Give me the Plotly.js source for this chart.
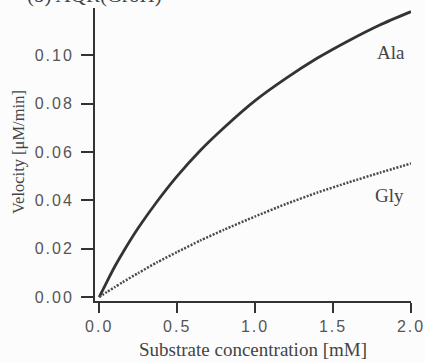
<!DOCTYPE html>
<html>
<head>
<meta charset="utf-8">
<script src="https://cdn.plot.ly/plotly-3.0.1.min.js"></script>
<style>
html,body{margin:0;padding:0;background:#fdfcfc;}
#chart{width:425px;height:363px;}
#chart .xtick text, #chart .ytick text{letter-spacing:2px;}
</style>
</head>
<body>
<div id="chart"></div>
<script>
var substrate = [0, 0.05, 0.1, 0.15, 0.25, 0.37, 0.5, 0.65, 0.8, 1.0, 1.2, 1.4, 1.6, 1.8, 2.0];
var alaVelocity = [0, 0.0064, 0.0126, 0.0182, 0.0285, 0.0394, 0.0500, 0.0607, 0.0700, 0.0812, 0.0905, 0.0988, 0.1060, 0.1125, 0.1180];
var glyVelocity = [0, 0.0021, 0.0041, 0.0061, 0.0099, 0.0143, 0.0186, 0.0234, 0.0278, 0.0333, 0.0385, 0.0432, 0.0474, 0.0514, 0.0552];
var xTicks = [0, 0.5, 1.0, 1.5, 2.0];
var xTickText = ["0.0", "0.5", "1.0", "1.5", "2.0"];
var yTicks = [0, 0.02, 0.04, 0.06, 0.08, 0.10];
var yTickText = ["0.00", "0.02", "0.04", "0.06", "0.08", "0.10"];
var seriesNames = ["Ala", "Gly"];
var panelTitle = "(b) AQR(GroH)";
var xTitle = "Substrate concentration [mM]";
var yTitle = "Velocity [μM/min]";

var traces = [
  {x: substrate, y: alaVelocity, name: seriesNames[0], mode: "lines", line: {color: "#333333", width: 2.8, shape: "spline", smoothing: 0.6}},
  {x: substrate, y: glyVelocity, name: seriesNames[1], mode: "lines", line: {color: "#4a4a4a", width: 2.5, dash: "2px,1.5px", shape: "spline", smoothing: 0.6}}
];

var serif = "Liberation Serif, Times New Roman, serif";
var sans = "Liberation Sans, Arial, sans-serif";

var ml = 95, mr = 14, mt = 8, mb = 62;
var pw = 425 - ml - mr, ph = 363 - mt - mb;

var layout = {
  width: 425, height: 363,
  margin: {l: ml, r: mr, t: mt, b: mb},
  paper_bgcolor: "#fdfcfc", plot_bgcolor: "#fdfcfc",
  showlegend: false,
  xaxis: {
    range: [-0.027, 2.0], tickvals: xTicks, ticktext: xTickText,
    showgrid: false, zeroline: false, showline: true, linecolor: "#333", linewidth: 2,
    ticks: "outside", ticklen: 10, tickwidth: 2, tickcolor: "#333",
    tickfont: {family: sans, size: 16, color: "#555"},
    title: {text: xTitle, font: {family: serif, size: 19, color: "#444"}, standoff: 8}
  },
  yaxis: {
    range: [-0.00165, 0.1195], tickvals: yTicks, ticktext: yTickText,
    showgrid: false, zeroline: false, showline: true, linecolor: "#333", linewidth: 2,
    ticks: "outside", ticklen: 12, tickwidth: 2, tickcolor: "#333",
    ticklabelstandoff: 4,
    tickfont: {family: sans, size: 16, color: "#555"}
  },
  annotations: [
    {x: 1.87, y: 0.101, xref: "x", yref: "y", text: seriesNames[0], showarrow: false, font: {family: serif, size: 19, color: "#444"}},
    {x: 1.86, y: 0.042, xref: "x", yref: "y", text: seriesNames[1], showarrow: false, font: {family: serif, size: 19, color: "#444"}},
    {x: (18 - ml) / pw, y: (363 - mb - 152) / ph, xref: "paper", yref: "paper", text: yTitle, textangle: -90, showarrow: false, xanchor: "center", yanchor: "middle", font: {family: serif, size: 16.5, color: "#444"}},
    {x: (164 - ml) / pw, y: (363 - mb + 5) / ph, xref: "paper", yref: "paper", text: panelTitle, showarrow: false, xanchor: "right", yanchor: "middle", font: {family: serif, size: 21, color: "#444"}}
  ]
};
Plotly.newPlot("chart", traces, layout, {displayModeBar: false, staticPlot: true});
</script>
</body>
</html>
